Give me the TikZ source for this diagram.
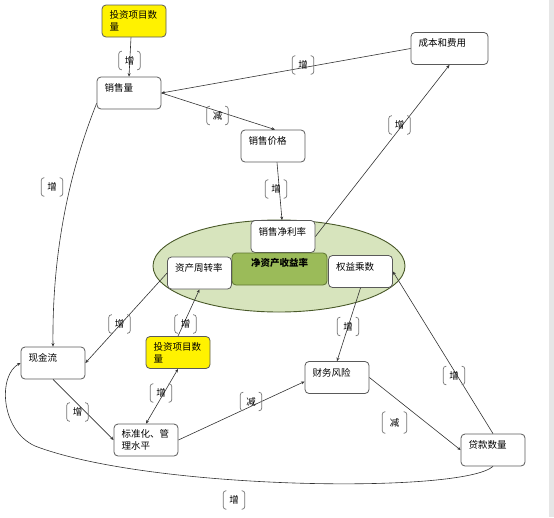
\documentclass[tikz,border=0pt]{standalone}
\usepackage{fontspec}
\newfontfamily\cjk{Noto Sans CJK SC}
\usetikzlibrary{arrows.meta,shapes.geometric}
\definecolor{ellfill}{HTML}{D7E4BD}
\definecolor{ellline}{HTML}{4A5A2A}
\definecolor{roefill}{HTML}{9BBB59}
\definecolor{roeline}{HTML}{5E7530}
\definecolor{boxline}{HTML}{5A5A5A}
\definecolor{arrowc}{HTML}{333333}
\definecolor{band}{HTML}{E6E6E6}
\begin{document}
\begin{tikzpicture}[x=1pt,y=-1pt,
 box/.style={draw=boxline, rounded corners=4pt, line width=0.8pt, fill=white,
   minimum width=64pt, minimum height=32pt, text width=49pt, align=left,
   inner xsep=7.5pt, inner ysep=0pt, font=\cjk\fontsize{9.5}{12}\selectfont},
 one/.style={text depth=11pt},
 ybox/.style={box, fill=yellow},
 lbl/.style={inner sep=0pt, minimum width=21pt, minimum height=18pt,
   font=\cjk\fontsize{9.5}{9.5}\selectfont},
 brk/.style={draw=black!55, line width=0.7pt, rounded corners=2.5pt},
 conn/.style={draw=arrowc, line width=0.6pt, -{Stealth[length=3.5pt,width=3pt]}},
 both/.style={draw=arrowc, line width=0.6pt, {Stealth[length=3.5pt,width=3pt]}-{Stealth[length=3.5pt,width=3pt]}}
]
\useasboundingbox (0,0) rectangle (554,517);
\fill[band] (549,0) rectangle (554,517);

\node[ellipse, draw=ellline, line width=0.9pt, fill=ellfill, minimum width=252pt,
  minimum height=92pt, inner sep=0pt] (ell) at (279,266) {};

\node[ybox] (inv1) at (134,21) {投资项目数\\量};
\node[box,one] (sales) at (129,93) {销售量};
\node[box,one, minimum width=77pt, text width=62pt] (cost) at (449.5,48.5) {成本和费用};
\node[box,one] (price) at (273,146) {销售价格};
\node[box,one] (npm) at (283,236.5) {销售净利率};
\node[box, fill=roefill, draw=roeline, minimum width=95pt, text width=80pt, align=center,
  text depth=13pt, font=\cjk\bfseries\fontsize{9.5}{12}\selectfont] (roe) at (279.5,269) {净资产收益率};
\node[box,one] (turn) at (199.5,273) {资产周转率};
\node[box,one] (em) at (360.5,271.5) {权益乘数};
\node[box,one] (cash) at (53,363) {现金流};
\node[ybox] (inv2) at (178,352.5) {投资项目数\\量};
\node[box] (std) at (146,440) {标准化、管\\理水平};
\node[box,one] (risk) at (337,377.5) {财务风险};
\node[box,one] (loan) at (493,450) {贷款数量};

\draw[conn] ([xshift=-3pt]inv1.south) -- (sales.north);
\draw[conn] (cost.west) -- (sales.east);
\draw[conn] (sales.east) -- ([xshift=2pt]price.north);
\draw[conn] ([xshift=4pt]price.south) -- ([xshift=-1pt]npm.north);
\draw[conn] (npm.east) -- (cost.south);
\draw[conn] ([yshift=6pt]sales.south west) .. controls (70,170) and (52,250) .. (cash.north);
\draw[conn] (turn.west) -- (cash.east);
\draw[conn] (inv2.north) -- (turn.south);
\draw[both] (std.north) -- (inv2.south);
\draw[conn] (cash.south) -- (std.west);
\draw[conn] (std.east) -- ([yshift=-4pt]risk.west);
\draw[conn] (em.south) -- (risk.north);
\draw[conn] (risk.east) -- (loan.west);
\draw[conn] (loan.north) -- (em.east);
\draw[conn] (loan.south) .. controls (462,494) and (150,490) .. (35,446)
  .. controls (0,430) and (-2,375) .. (cash.west);

\node[lbl] (l1) at (129.5,60.5) {增};
\node[lbl] (l2) at (217.5,115.5) {减};
\node[lbl] (l3) at (303,65) {增};
\node[lbl] (l4) at (399.5,125) {增};
\node[lbl] (l5) at (276,189) {增};
\node[lbl] (l6) at (52,187) {增};
\node[lbl] (l7) at (119.5,324) {增};
\node[lbl] (l8) at (185.5,324) {增};
\node[lbl] (l9) at (161,393) {增};
\node[lbl] (l10) at (77.5,412) {增};
\node[lbl] (l11) at (251,401.5) {减};
\node[lbl] (l12) at (348,326.5) {增};
\node[lbl] (l13) at (454,375.5) {增};
\node[lbl, minimum width=24pt, minimum height=21pt] (l14) at (394.5,422.5) {减};
\node[lbl] (l15) at (234,500) {增};

\foreach \i in {1,...,15}{
  \draw[brk] ([xshift=3pt]l\i.north west) -- (l\i.north west) -- (l\i.south west) -- ([xshift=3pt]l\i.south west);
  \draw[brk] ([xshift=-3pt]l\i.north east) -- (l\i.north east) -- (l\i.south east) -- ([xshift=-3pt]l\i.south east);
}
\end{tikzpicture}
\end{document}
